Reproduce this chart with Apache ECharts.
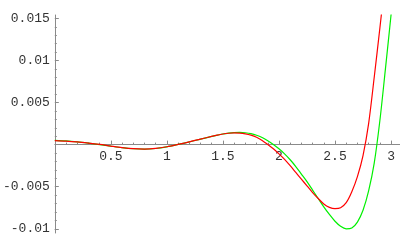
<!DOCTYPE html>
<html>
<head>
<meta charset="utf-8">
<script src="https://cdn.jsdelivr.net/npm/echarts@6/dist/echarts.min.js"></script>
<style>
html,body{margin:0;padding:0;background:#fff;}
#c{width:400px;height:247px;}
</style>
</head>
<body>
<div id="c"></div>
<script>
var redX = [0,0.1,0.2,0.3,0.4,0.5,0.6,0.7,0.8,0.9,1.0,1.1,1.2,1.3,1.4,1.45,1.5,1.55,1.6,1.65,1.7,1.75,1.8,1.85,1.9,1.95,2.0,2.05,2.1,2.15,2.2,2.25,2.3,2.35,2.4,2.45,2.5,2.55,2.6,2.65,2.7,2.75,2.8,2.85,2.9,2.95];
var redY = [0.00048,0.00042,0.00032,0.00018,0.00002,-0.00017,-0.00035,-0.00048,-0.00053,-0.00045,-0.00025,0.00003,0.00033,0.00066,0.00098,0.00113,0.00126,0.00135,0.00139,0.00137,0.00128,0.00112,0.00087,0.00050,0.00002,-0.00050,-0.0011,-0.00175,-0.0025,-0.0033,-0.0041,-0.0049,-0.0057,-0.0064,-0.00705,-0.00745,-0.0076,-0.0075,-0.0069,-0.0056,-0.0038,-0.0013,0.0025,0.0080,0.0138,0.0198];
var greenX = [0,0.1,0.2,0.3,0.4,0.5,0.6,0.7,0.8,0.9,1.0,1.1,1.2,1.3,1.4,1.45,1.5,1.55,1.6,1.65,1.7,1.75,1.8,1.85,1.9,1.95,2.0,2.05,2.1,2.15,2.2,2.25,2.3,2.35,2.4,2.45,2.5,2.55,2.6,2.65,2.7,2.75,2.8,2.85,2.9,2.95,3.0,3.05];
var greenY = [0.00050,0.00044,0.00033,0.00018,0.00001,-0.00018,-0.00036,-0.00049,-0.00054,-0.00046,-0.00026,0.00002,0.00032,0.00065,0.00097,0.00112,0.00126,0.00136,0.00142,0.00145,0.00141,0.00131,0.00112,0.00084,0.00047,0.00002,-0.0005,-0.0011,-0.0018,-0.0026,-0.0035,-0.0044,-0.0054,-0.0064,-0.0074,-0.0083,-0.0091,-0.0097,-0.0100,-0.0099,-0.0092,-0.0078,-0.0055,-0.0022,0.0028,0.0090,0.0154,0.0220];
var xTickLabels = ["0.5","1","1.5","2","2.5","3"];
var yTickLabels = ["0.015","0.01","0.005","-0.005","-0.01"];
var xMinorTicks = [0.1,0.2,0.3,0.4,0.6,0.7,0.8,0.9,1.1,1.2,1.3,1.4,1.6,1.7,1.8,1.9,2.1,2.2,2.3,2.4,2.6,2.7,2.8,2.9];
var yMinorTicks = [-0.01,-0.009,-0.008,-0.007,-0.006,-0.004,-0.003,-0.002,-0.001,0.001,0.002,0.003,0.004,0.006,0.007,0.008,0.009,0.011,0.012,0.013,0.014];

function pairs(xs, ys){ return xs.map(function(x,i){ return [x, ys[i]]; }); }
var xVals = xTickLabels.map(parseFloat);
var yVals = yTickLabels.map(parseFloat);
function labelFor(list, vals){
  return function(v){
    for (var i=0;i<vals.length;i++){ if (Math.abs(vals[i]-v) < 1e-9) return list[i]; }
    return '';
  };
}
var axisCol = '#8a8a8a';
var font = {fontFamily:'Liberation Mono', fontSize:13, color:'#333'};
var xmin = 0, xmax = 3.08, ymin = -0.0105, ymax = 0.0154;
var W = 400, H = 247, gTop = 15, gBottom = 14, gLeft = 54;
var gH = H - gTop - gBottom;
// lift the x axis from the grid bottom to the y=0 level
var zeroOffset = -gH * (0 - ymin) / (ymax - ymin);

var chart = echarts.init(document.getElementById('c'), null, {renderer:'canvas'});
chart.setOption({
  animation:false,
  backgroundColor:'#fff',
  grid:{left:gLeft, right:0, top:gTop, bottom:gBottom},
  xAxis:[{
    type:'value', min:xmin, max:xmax, position:'bottom', offset:zeroOffset,
    axisLine:{show:true, onZero:false, lineStyle:{color:axisCol, width:1}},
    axisTick:{show:true, inside:true, length:4, customValues:xVals, lineStyle:{color:axisCol}},
    axisLabel:Object.assign({show:true, margin:5, customValues:xVals, formatter:labelFor(xTickLabels,xVals)}, font),
    splitLine:{show:false}
  },{
    type:'value', min:xmin, max:xmax, position:'bottom', offset:zeroOffset,
    axisLine:{show:false, onZero:false},
    axisTick:{show:true, inside:true, length:2, customValues:xMinorTicks, lineStyle:{color:axisCol}},
    axisLabel:{show:false},
    splitLine:{show:false}
  }],
  yAxis:[{
    type:'value', min:ymin, max:ymax, position:'left',
    axisLine:{show:true, onZero:false, lineStyle:{color:axisCol, width:1}},
    axisTick:{show:true, inside:true, length:4, customValues:yVals, lineStyle:{color:axisCol}},
    axisLabel:Object.assign({show:true, margin:5, customValues:yVals, formatter:labelFor(yTickLabels,yVals)}, font),
    splitLine:{show:false}
  },{
    type:'value', min:ymin, max:ymax, position:'left',
    axisLine:{show:false, onZero:false},
    axisTick:{show:true, inside:true, length:2, customValues:yMinorTicks, lineStyle:{color:axisCol}},
    axisLabel:{show:false},
    splitLine:{show:false}
  }],
  series:[{
    type:'line', name:'red', data:pairs(redX, redY), smooth:0.3, showSymbol:false,
    lineStyle:{color:'#ff0000', width:1.2}, clip:true, z:3
  },{
    type:'line', name:'green', data:pairs(greenX, greenY), smooth:0.3, showSymbol:false,
    lineStyle:{color:'#00f000', width:1.2}, clip:true, z:2
  }]
});
</script>
</body>
</html>
